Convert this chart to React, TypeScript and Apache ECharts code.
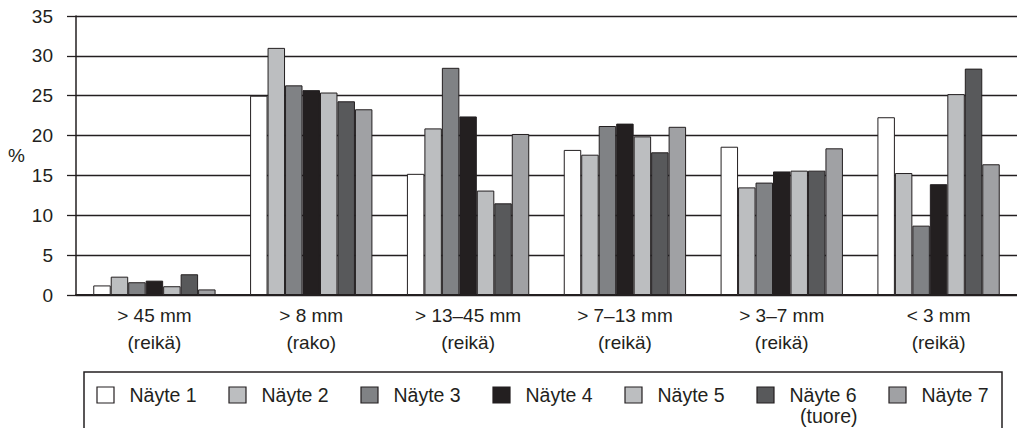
import React, { useEffect, useRef } from "react";
import * as echarts from "echarts";

const categories = [
  "> 45 mm\n(reikä)",
  "> 8 mm\n(rako)",
  "> 13–45 mm\n(reikä)",
  "> 7–13 mm\n(reikä)",
  "> 3–7 mm\n(reikä)",
  "< 3 mm\n(reikä)",
];

const seriesNames = ["Näyte 1", "Näyte 2", "Näyte 3", "Näyte 4", "Näyte 5", "Näyte 6", "Näyte 7"];

const nayte1 = [1.2, 25.0, 15.2, 18.2, 18.6, 22.3];
const nayte2 = [2.3, 31.0, 20.9, 17.6, 13.5, 15.3];
const nayte3 = [1.6, 26.3, 28.5, 21.2, 14.1, 8.7];
const nayte4 = [1.8, 25.7, 22.4, 21.5, 15.5, 13.9];
const nayte5 = [1.1, 25.4, 13.1, 19.9, 15.6, 25.2];
const nayte6 = [2.6, 24.3, 11.5, 17.9, 15.6, 28.4];
const nayte7 = [0.7, 23.3, 20.2, 21.1, 18.4, 16.4];

const seriesData = [nayte1, nayte2, nayte3, nayte4, nayte5, nayte6, nayte7];
const colors = ["#ffffff", "#bcbec0", "#808285", "#231f20", "#bcbec0", "#58595b", "#a0a1a4"];

const yTicks = { min: 0, max: 35, interval: 5 };
const legendNotes = ["", "", "", "", "", "(tuore)", ""];

const INK = "#231f20";
const FONT = "'Liberation Sans', Arial, Helvetica, sans-serif";

export default function App() {
  const ref = useRef<HTMLDivElement>(null);

  useEffect(() => {
    if (!ref.current) return;
    const chart = echarts.init(ref.current, undefined, { renderer: "svg" });

    const legendLeft = 97;
    const legendStep = 132;
    const legendCy = 395;
    const legendItems: any[] = [];
    seriesNames.forEach((name, i) => {
      const x0 = legendLeft + i * legendStep;
      legendItems.push({
        type: "rect",
        shape: { x: x0, y: legendCy - 8, width: 17, height: 16 },
        style: { fill: colors[i], stroke: INK, lineWidth: 1.2 },
        silent: true,
      });
      legendItems.push({
        type: "text",
        x: x0 + 32.5,
        y: legendCy,
        style: {
          text: name,
          fontSize: 19.5,
          fontFamily: FONT,
          fill: INK,
          align: "left",
          verticalAlign: "middle",
        },
        silent: true,
      });
      if (legendNotes[i]) {
        legendItems.push({
          type: "text",
          x: x0 + 32.5 + 68,
          y: legendCy + 21,
          style: {
            text: legendNotes[i],
            fontSize: 19.5,
            fontFamily: FONT,
            fill: INK,
            align: "right",
            verticalAlign: "middle",
          },
          silent: true,
        });
      }
    });

    const option: any = {
      animation: false,
      backgroundColor: "#ffffff",
      textStyle: { fontFamily: FONT, color: INK },
      grid: { left: 76, right: 0, top: 16, bottom: 133, containLabel: false },
      xAxis: {
        type: "category",
        data: categories,
        axisLine: { show: true, lineStyle: { color: INK, width: 2 } },
        axisTick: { show: false },
        axisLabel: {
          interval: 0,
          margin: 7,
          fontSize: 19,
          lineHeight: 27,
          color: INK,
          fontFamily: FONT,
        },
        splitLine: { show: false },
      },
      yAxis: {
        type: "value",
        min: yTicks.min,
        max: yTicks.max,
        interval: yTicks.interval,
        name: "%",
        nameLocation: "middle",
        nameRotate: 0,
        nameGap: 51,
        nameTextStyle: { fontSize: 19, color: INK, fontFamily: FONT },
        axisLine: { show: true, lineStyle: { color: INK, width: 1.5 } },
        axisTick: { show: true, inside: false, length: 9, lineStyle: { color: INK, width: 1.3 } },
        axisLabel: { margin: 23, fontSize: 19, color: INK, fontFamily: FONT },
        splitLine: { show: true, lineStyle: { color: INK, width: 1.3 } },
      },
      series: seriesNames.map((name, i) => ({
        name,
        type: "bar",
        data: seriesData[i],
        barGap: "0%",
        barCategoryGap: "22%",
        itemStyle: { color: colors[i], borderColor: INK, borderWidth: 1 },
      })),
      graphic: [
        {
          type: "rect",
          shape: { x: 84, y: 372, width: 918, height: 90 },
          style: { fill: "none", stroke: INK, lineWidth: 1.5 },
          silent: true,
        },
        ...legendItems,
      ],
    };
    chart.setOption(option);
    return () => chart.dispose();
  }, []);

  return (
    <div
      ref={ref}
      style={{ position: "fixed", left: 0, top: 0, width: 1017, height: 428, background: "#fff" }}
    />
  );
}
